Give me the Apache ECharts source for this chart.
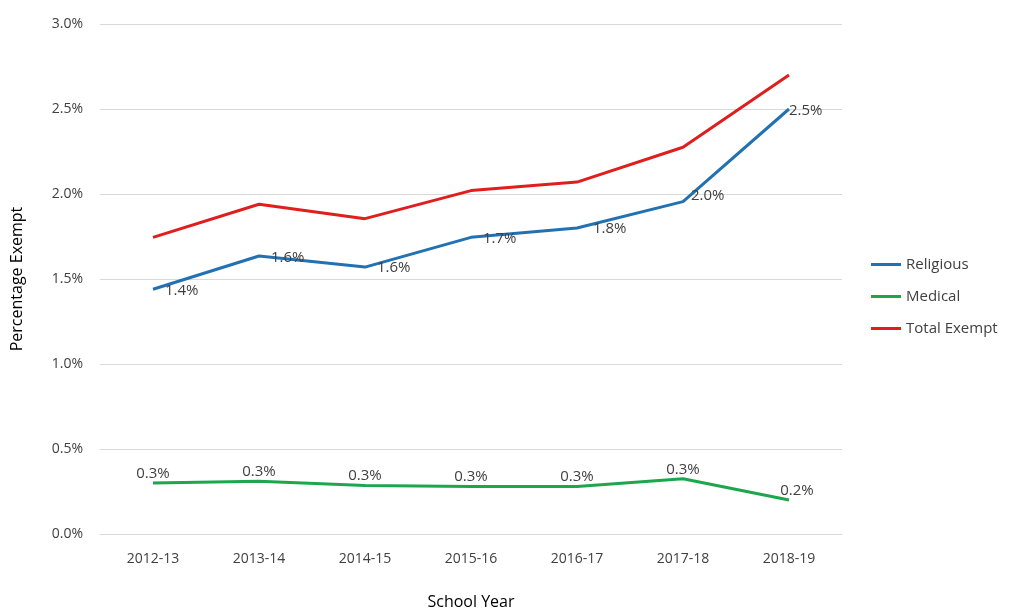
<!DOCTYPE html>
<html><head><meta charset="utf-8">
<script src="https://cdn.jsdelivr.net/npm/echarts@6/dist/echarts.min.js"></script>
<style>html,body{margin:0;padding:0;background:#fff;overflow:hidden}#c{width:1010px;height:615px}</style>
</head><body><div id="c"></div>
<script>
const categories = ['2012-13','2013-14','2014-15','2015-16','2016-17','2017-18','2018-19'];
const religious = [1.44, 1.635, 1.57, 1.745, 1.80, 1.955, 2.50];
const medical = [0.30, 0.31, 0.285, 0.28, 0.28, 0.325, 0.20];
const totalExempt = [1.745, 1.94, 1.855, 2.02, 2.07, 2.275, 2.70];
const yTicks = [0, 0.5, 1.0, 1.5, 2.0, 2.5, 3.0];

const font = '"Open Sans", "Noto Sans", sans-serif';
const txt = '#404040';
const chart = echarts.init(document.getElementById('c'));
const relLabelOffsets = [[0,2],[0,2],[0,1],[0,1],[4,1],[-4,-6],[-12,2]];
chart.setOption({
  animation: false,
  grid: {left: 100, right: 168, top: 24, bottom: 75},
  legend: {
    orient: 'vertical', left: 866, top: 252, itemGap: 17,
    itemWidth: 30, itemHeight: 3, icon: 'rect',
    textStyle: {fontFamily: font, fontSize: 15, color: txt},
    data: ['Religious','Medical','Total Exempt']
  },
  xAxis: {
    type: 'category', data: categories, boundaryGap: true,
    name: 'School Year', nameLocation: 'middle', nameGap: 60,
    nameTextStyle: {fontFamily: font, fontSize: 16, color: '#000'},
    axisLine: {lineStyle: {color: '#d9d9d9'}},
    axisTick: {show: false},
    axisLabel: {fontFamily: font, fontSize: 14, color: txt, margin: 18}
  },
  yAxis: {
    type: 'value', min: 0, max: 3, interval: 0.5,
    name: 'Percentage Exempt', nameLocation: 'middle', nameGap: 75,
    nameTextStyle: {fontFamily: font, fontSize: 16, color: '#000'},
    axisLine: {show: false}, axisTick: {show: false},
    splitLine: {lineStyle: {color: '#d9d9d9'}},
    axisLabel: {fontFamily: font, fontSize: 14, color: txt, margin: 17,
      formatter: v => v.toFixed(1) + '%'}
  },
  series: [
    {name: 'Religious', type: 'line', data: religious.map((v,i)=>({value: v, label: {offset: relLabelOffsets[i]}})),
     symbol: 'circle', symbolSize: 0, showSymbol: true, lineStyle: {width: 3, color: '#2271b3'}, itemStyle: {color: '#2271b3'},
     label: {show: true, position: 'right', distance: 12, fontFamily: font, fontSize: 15, color: txt,
       formatter: p => (Math.round(p.value * 10) / 10).toFixed(1) + '%'}},
    {name: 'Medical', type: 'line', data: medical.map((v,i)=>({value: v, label: i===6?{offset:[8,0]}:{}})),
     symbol: 'circle', symbolSize: 0, showSymbol: true, lineStyle: {width: 3, color: '#1ea64c'}, itemStyle: {color: '#1ea64c'},
     label: {show: true, position: 'top', distance: 2, fontFamily: font, fontSize: 15, color: txt,
       formatter: p => (Math.round(p.value * 10) / 10).toFixed(1) + '%'}},
    {name: 'Total Exempt', type: 'line', data: totalExempt,
     symbol: 'none', lineStyle: {width: 3, color: '#e01e1e'}, itemStyle: {color: '#e01e1e'}}
  ]
});
</script></body></html>
